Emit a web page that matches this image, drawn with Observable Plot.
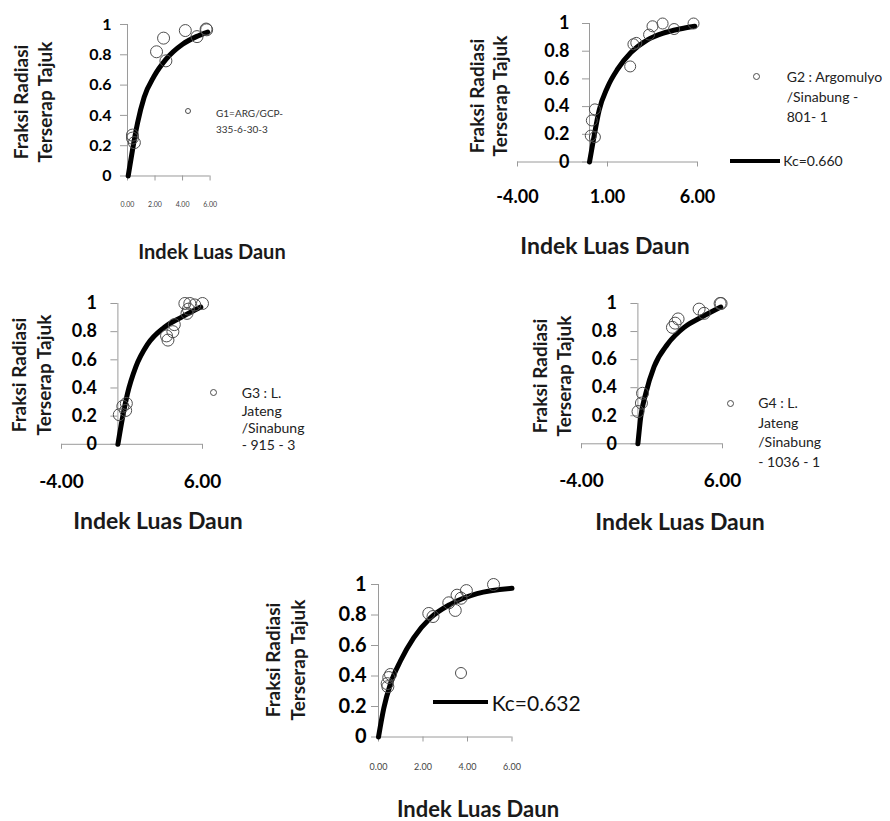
<!DOCTYPE html>
<html>
<head>
<meta charset="utf-8">
<script src="https://cdn.jsdelivr.net/npm/d3@7"></script>
<script src="https://cdn.jsdelivr.net/npm/@observablehq/plot@0.6"></script>
<style>
  body { margin: 0; background: #fff; }
  #root { position: relative; width: 890px; height: 821px; background: #fff; overflow: hidden; font-family: Lato, "Open Sans", sans-serif; color: #111; }
  .t { position: absolute; white-space: nowrap; line-height: 1; }
</style>
</head>
<body>
<div id="root"></div>
<script>
// ---------- data ----------
const yTicks = [0, 0.2, 0.4, 0.6, 0.8, 1];
const xTicksSmall = [0, 2, 4, 6];
const xTicksG2 = [-4, 1, 6];
const xTicksWide = [-4, 6];

const yTitle = ["Fraksi Radiasi", "Terserap Tajuk"];
const xTitle = "Indek Luas Daun";

// G1
const g1LAI  = [0.36, 0.36, 0.5, 2.11, 2.62, 2.79, 4.2, 5.05, 5.71, 5.75];
const g1Frac = [0.27, 0.25, 0.22, 0.82, 0.91, 0.76, 0.96, 0.92, 0.97, 0.965];
const g1FitLAI  = [0.05, 0.36, 0.73, 1.21, 1.94, 2.79, 4.0, 5.0, 5.83];
const g1FitFrac = [0, 0.17, 0.35, 0.52, 0.66, 0.77, 0.87, 0.92, 0.95];
const g1Legend = ["G1=ARG/GCP-", "335-6-30-3"];

// G2
const g2LAI  = [0.07, 0.3, 0.13, 0.3, 2.26, 2.44, 2.6, 3.31, 3.5, 4.06, 4.7, 5.78];
const g2Frac = [0.19, 0.18, 0.30, 0.38, 0.69, 0.85, 0.86, 0.92, 0.98, 1.0, 0.96, 1.0];
const g2FitLAI  = [0, 0.26, 0.53, 1.0, 1.56, 2.3, 3.2, 4.1, 5.0, 5.85];
const g2FitFrac = [0, 0.19, 0.37, 0.54, 0.67, 0.79, 0.88, 0.93, 0.96, 0.98];
const g2Legend = ["G2 : Argomulyo", "/Sinabung -", "801- 1"];
const g2Kc = "Kc=0.660";

// G3
const g3LAI  = [0.1, 0.35, 0.55, 0.6, 3.45, 3.55, 3.9, 4.0, 4.75, 4.9, 5.0, 5.1, 5.45, 6.0];
const g3Frac = [0.21, 0.27, 0.24, 0.29, 0.77, 0.74, 0.8, 0.85, 1.0, 0.93, 0.96, 1.0, 0.99, 1.0];
const g3FitLAI  = [0, 0.33, 0.68, 1.27, 2.1, 3.28, 4.46, 5.88];
const g3FitFrac = [0, 0.19, 0.36, 0.55, 0.71, 0.83, 0.9, 0.975];
const g3Legend = ["G3 : L.", "Jateng", "/Sinabung", "- 915 - 3"];

// G4
const g4LAI  = [0.01, 0.25, 0.33, 2.45, 2.64, 2.85, 4.34, 4.7, 5.83, 5.9];
const g4Frac = [0.23, 0.29, 0.36, 0.83, 0.86, 0.89, 0.96, 0.93, 1.0, 1.0];
const g4FitLAI  = [0, 0.2, 0.56, 1.15, 2.1, 3.28, 4.46, 5.88];
const g4FitFrac = [0, 0.19, 0.36, 0.55, 0.71, 0.83, 0.9, 0.975];
const g4Legend = ["G4 : L.", "Jateng", "/Sinabung", "- 1036 - 1"];

// G5
const g5LAI  = [0.39, 0.42, 0.46, 0.54, 2.26, 2.45, 3.16, 3.45, 3.53, 3.71, 3.95, 5.17];
const g5Frac = [0.35, 0.33, 0.39, 0.41, 0.81, 0.79, 0.88, 0.83, 0.93, 0.91, 0.96, 1.0];
const g5FitLAI  = [0, 0.24, 0.54, 0.99, 1.58, 2.33, 3.23, 4.43, 6.0];
const g5FitFrac = [0, 0.19, 0.35, 0.5, 0.65, 0.78, 0.87, 0.94, 0.975];
const g5Kc = "Kc=0.632";

// ---------- build ----------
const zip = (xs, ys) => xs.map((x, i) => ({x, y: ys[i]}));
const root = document.getElementById("root");

const panels = [
  { xDomain: [0, 6], xTicks: xTicksSmall, fx0: 126.7, fx1: 209.3, fyTop: 24, fyBot: 175.5,
    pts: zip(g1LAI, g1Frac), fit: zip(g1FitLAI, g1FitFrac), r: 6,
    yFont: 16, yPad: 9, xFont: 7, xPad: 21, xWeight: "normal", xFill: "#444" },
  { xDomain: [-4, 6], xTicks: xTicksG2, fx0: 516.7, fx1: 696.7, fyTop: 23.2, fyBot: 161.7,
    pts: zip(g2LAI, g2Frac), fit: zip(g2FitLAI, g2FitFrac), r: 5.5,
    yFont: 18, yPad: 13, xFont: 18, xPad: 23, xWeight: "bold", xFill: "#000" },
  { xDomain: [-4, 6], xTicks: xTicksWide, fx0: 60.7, fx1: 201.7, fyTop: 302.5, fyBot: 443.3,
    pts: zip(g3LAI, g3Frac), fit: zip(g3FitLAI, g3FitFrac), r: 6,
    yFont: 18, yPad: 14, xFont: 19, xPad: 25, xWeight: "bold", xFill: "#000" },
  { xDomain: [-4, 6], xTicks: xTicksWide, fx0: 580.7, fx1: 721.7, fyTop: 303, fyBot: 443.3,
    pts: zip(g4LAI, g4Frac), fit: zip(g4FitLAI, g4FitFrac), r: 6,
    yFont: 18, yPad: 14, xFont: 19, xPad: 25, xWeight: "bold", xFill: "#000" },
  { xDomain: [0, 6], xTicks: xTicksSmall, fx0: 378, fx1: 511.5, fyTop: 584, fyBot: 736.5,
    pts: zip(g5LAI, g5Frac), fit: zip(g5FitLAI, g5FitFrac), r: 6,
    yFont: 20, yPad: 5, xFont: 9, xPad: 22, xWeight: "normal", xFill: "#444" }
];

const axisGray = "#9a9a9a";
for (const p of panels) {
  const ml = 70, mr = 15, mt = 15, mb = 50;
  const W = ml + (p.fx1 - p.fx0) + mr;
  const H = mt + (p.fyBot - p.fyTop) + mb;
  const svg = Plot.plot({
    width: W, height: H,
    marginLeft: ml, marginRight: mr, marginTop: mt, marginBottom: mb,
    x: {domain: p.xDomain, axis: null},
    y: {domain: [0, 1], axis: null},
    style: {background: "transparent", overflow: "visible", fontFamily: "Lato, 'Open Sans', sans-serif"},
    marks: [
      Plot.ruleY([0], {stroke: axisGray, strokeWidth: 1}),
      Plot.ruleX([0], {y1: 0, y2: 1, stroke: axisGray, strokeWidth: 1}),
      Plot.axisY({x: 0, ticks: yTicks, tickSize: 7, tickPadding: p.yPad, tickFormat: d => String(d), label: null,
        stroke: axisGray, fill: "#000", fontSize: p.yFont, fontWeight: "bold"}),
      Plot.axisX({ticks: p.xTicks, tickSize: 5, tickPadding: p.xPad, tickFormat: d => d.toFixed(2), label: null,
        stroke: axisGray, fill: p.xFill, fontSize: p.xFont, fontWeight: p.xWeight}),
      Plot.line(p.fit, {x: "x", y: "y", stroke: "#000", strokeWidth: 5, curve: "monotone-x"}),
      Plot.dot(p.pts, {x: "x", y: "y", r: p.r, stroke: "#4d4d4d", strokeWidth: 1, fill: "none"})
    ]
  });
  svg.style.position = "absolute";
  svg.style.left = (p.fx0 - ml) + "px";
  svg.style.top = (p.fyTop - mt) + "px";
  root.appendChild(svg);
}

// ---------- text & legends ----------
function text(str, x, y, {size = 14, weight = "normal", align = "center", rotate = false, color = "#111"} = {}) {
  const d = document.createElement("div");
  d.className = "t";
  d.textContent = str;
  d.style.left = x + "px";
  d.style.top = y + "px";
  d.style.fontSize = size + "px";
  d.style.fontWeight = weight;
  d.style.color = color;
  const tx = align === "center" ? "-50%" : "0";
  d.style.transform = `translate(${tx},-50%)` + (rotate ? " rotate(-90deg)" : "");
  if (rotate) d.style.transformOrigin = "50% 50%";
  root.appendChild(d);
}
function circle(x, y, r) {
  const d = document.createElement("div");
  d.style.cssText = `position:absolute;left:${x - r}px;top:${y - r}px;width:${2*r}px;height:${2*r}px;border:1px solid #4d4d4d;border-radius:50%;box-sizing:border-box;`;
  root.appendChild(d);
}
function lineKey(x0, x1, y, w) {
  const d = document.createElement("div");
  d.style.cssText = `position:absolute;left:${x0}px;top:${y - w/2}px;width:${x1 - x0}px;height:${w}px;background:#000;`;
  root.appendChild(d);
}

// axis titles
const titleSpecs = [
  {yx: [20, 44], yy: 102, xx: 212, xy: 250.5, xs: 20},
  {yx: [476, 499], yy: 96, xx: 605, xy: 245, xs: 23},
  {yx: [18, 43], yy: 375, xx: 158, xy: 520, xs: 23},
  {yx: [539, 563], yy: 376, xx: 680, xy: 521, xs: 23},
  {yx: [272, 297], yy: 660, xx: 478, xy: 809, xs: 22}
];
for (const s of titleSpecs) {
  text(yTitle[0], s.yx[0], s.yy, {size: 19, weight: "bold", rotate: true, color: "#1a1a1a"});
  text(yTitle[1], s.yx[1], s.yy, {size: 19, weight: "bold", rotate: true, color: "#1a1a1a"});
  text(xTitle, s.xx, s.xy, {size: s.xs, weight: "bold", color: "#1a1a1a"});
}

// legends
circle(188.3, 110.7, 3);
g1Legend.forEach((s, i) => text(s, 216, 112.7 + i * 16.6, {size: 10, align: "left", color: "#333"}));

circle(756.7, 76.7, 3.5);
g2Legend.forEach((s, i) => text(s, 786.7, 76.7 + i * 20, {size: 14, align: "left", color: "#222"}));
lineKey(730, 780, 161, 3.5);
text(g2Kc, 783.3, 161, {size: 14, align: "left", color: "#222"});

circle(213.3, 392.7, 3.5);
g3Legend.forEach((s, i) => text(s, 241.7, 393.3 + i * 17.2, {size: 14, align: "left", color: "#222"}));

circle(730, 403.3, 3.5);
g4Legend.forEach((s, i) => text(s, 758.3, 403.3 + i * 19.5, {size: 14, align: "left", color: "#222"}));

circle(460.7, 672.7, 6);
lineKey(433, 488, 701.7, 4);
text(g5Kc, 491.7, 701.7, {size: 21, align: "left", color: "#111"});
</script>
</body>
</html>
